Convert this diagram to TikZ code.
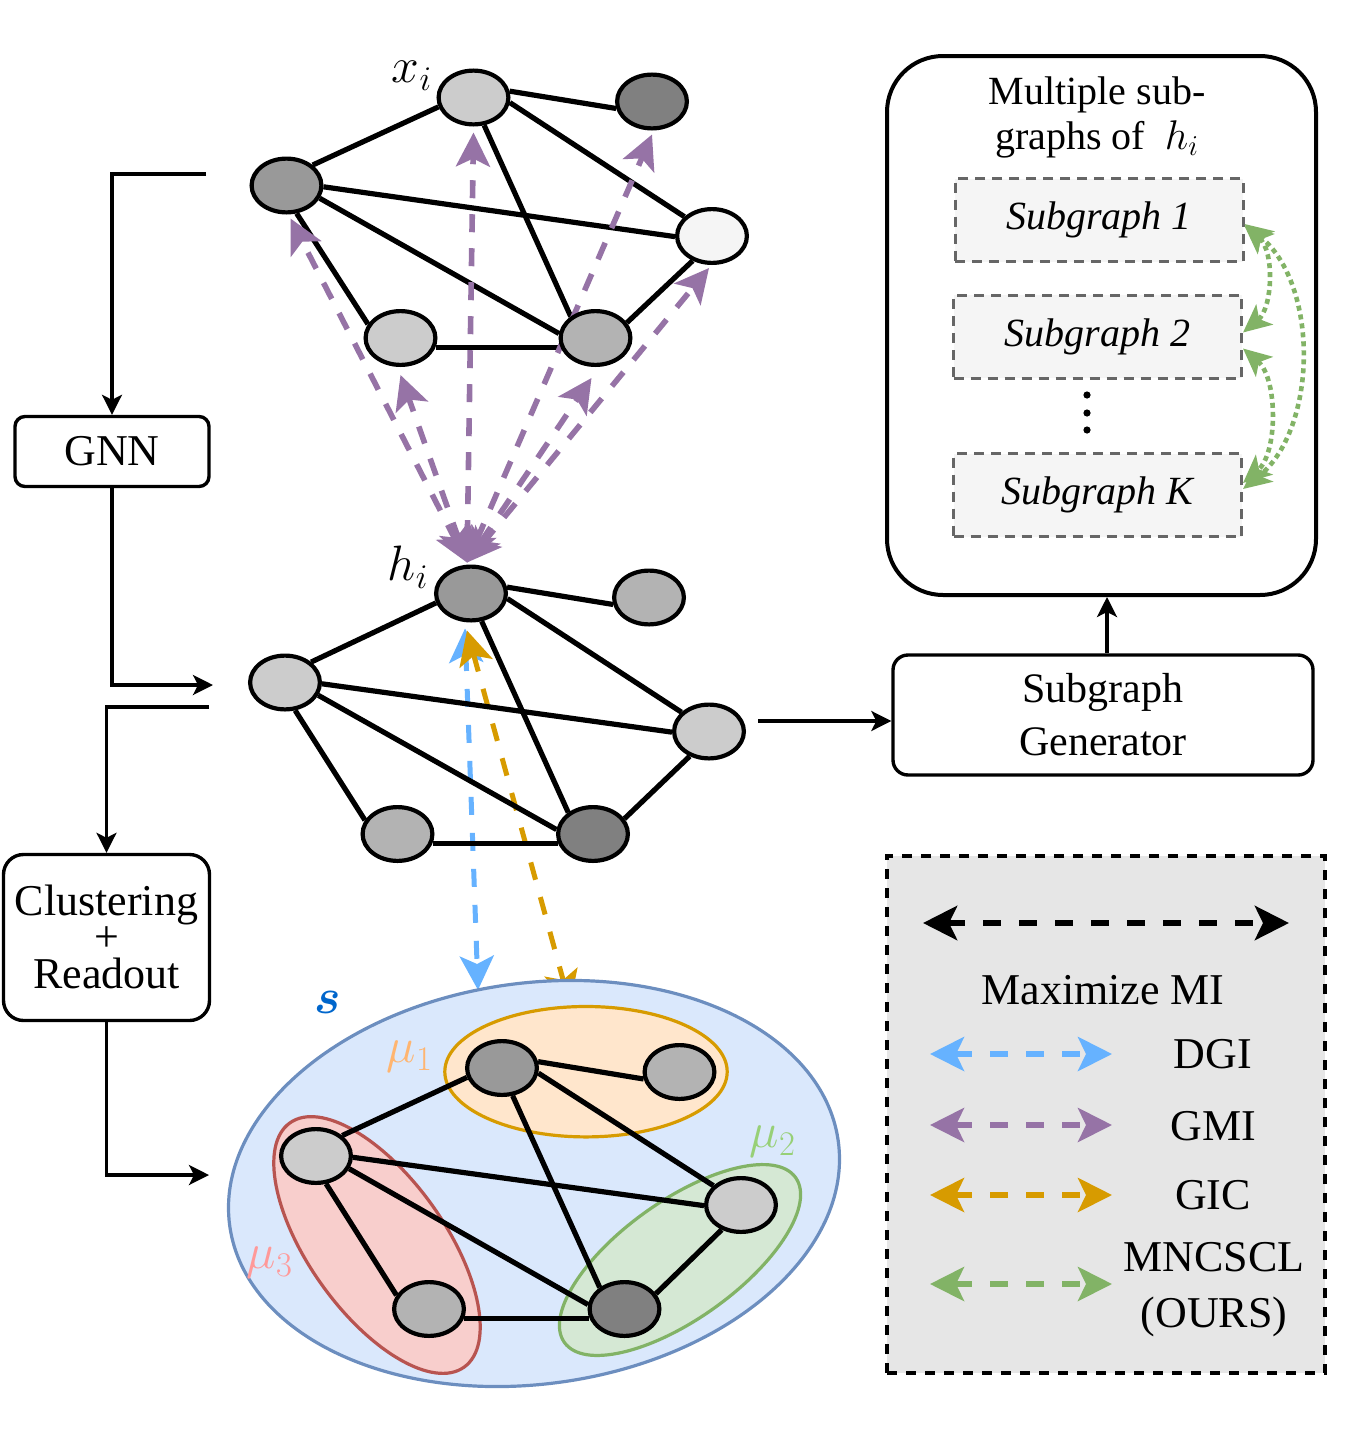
\documentclass[tikz,border=0pt]{standalone}
\usepackage{amsmath}
\usepackage{fontspec}
\setmainfont{Liberation Serif}
\usetikzlibrary{arrows.meta,shapes.geometric}
\pgfdeclarelayer{lay0}
\pgfdeclarelayer{lay1}
\pgfdeclarelayer{lay2}
\pgfsetlayers{lay0,lay1,lay2,main}
\definecolor{purp}{HTML}{9673A6}
\definecolor{dgib}{HTML}{66B2FF}
\definecolor{gico}{HTML}{D79B00}
\definecolor{grn}{HTML}{82B366}
\definecolor{gA}{HTML}{CCCCCC}
\definecolor{gB}{HTML}{808080}
\definecolor{gC}{HTML}{999999}
\definecolor{gD}{HTML}{F5F5F5}
\definecolor{gE}{HTML}{B3B3B3}
\definecolor{sgline}{HTML}{666666}
\definecolor{sgfill}{HTML}{F5F5F5}
\definecolor{lgfill}{HTML}{E6E6E6}
\definecolor{sfill}{HTML}{DAE8FC}
\definecolor{sline}{HTML}{6C8EBF}
\definecolor{ofill}{HTML}{FFE6CC}
\definecolor{oline}{HTML}{D79B00}
\definecolor{rfill}{HTML}{F8CECC}
\definecolor{rline}{HTML}{B85450}
\definecolor{gfill}{HTML}{D5E8D4}
\definecolor{gline}{HTML}{82B366}
\definecolor{sblue}{HTML}{0066CC}
\definecolor{muone}{HTML}{FFB570}
\definecolor{mutwo}{HTML}{97D077}
\definecolor{muthree}{HTML}{FF9999}
\tikzset{
  gnode/.style={ellipse, draw=black, line width=2.1pt, minimum width=34.9pt, minimum height=26.9pt, inner sep=0pt},
  gedge/.style={line width=2.6pt},
  conn/.style={line width=1.6pt, -{Stealth[length=10pt,width=10pt,inset=2.5pt]}},
  bigtip/.style={Stealth[length=17pt,width=17pt,inset=4pt]},
  miarrow/.style={line width=2.8pt, dash pattern=on 9pt off 8pt, {Stealth[length=17pt,width=17pt,inset=4pt]}-{Stealth[length=17pt,width=17pt,inset=4pt]}},
  lgarrow/.style={line width=2.8pt, dash pattern=on 9pt off 9pt, {Stealth[length=17pt,width=17pt,inset=4pt]}-{Stealth[length=17pt,width=17pt,inset=4pt]}},
  gdot/.style={grn, line width=2.3pt, dash pattern=on 2.5pt off 2pt, {Stealth[length=14pt,width=13pt,inset=3.5pt]}-{Stealth[length=14pt,width=13pt,inset=3.5pt]}},
  box/.style={draw=black, line width=1.7pt, inner sep=0pt, align=center, font=\fontsize{22}{26}\selectfont},
  sgbox/.style={draw=sgline, fill=sgfill, line width=1.5pt, dash pattern=on 5pt off 3.5pt, minimum width=144pt, minimum height=41.5pt, inner sep=0pt, font=\fontsize{20}{24}\selectfont\itshape},
  lbl/.style={font=\fontsize{22}{26}\selectfont, inner sep=0pt},
  mlbl/.style={font=\fontsize{26}{30}\selectfont, inner sep=0pt},
}
\begin{document}
\begin{tikzpicture}[x=0.5pt,y=-0.5pt]
\useasboundingbox (0,0) rectangle (1352,1440);

% ---------- graph nodes ----------
\node[gnode, fill=gA] (N1) at (473.5,97.5) {};
\node[gnode, fill=gB] (N2) at (652,101.5) {};
\node[gnode, fill=gC] (N3) at (286.5,185.5) {};
\node[gnode, fill=gD] (N4) at (712,236) {};
\node[gnode, fill=gA] (N5) at (400.5,338) {};
\node[gnode, fill=gE] (N6) at (595.5,338) {};

\node[gnode, fill=gC] (M1) at (471,593.5) {};
\node[gnode, fill=gE] (M2) at (649,597.5) {};
\node[gnode, fill=gA] (M3) at (285,682.5) {};
\node[gnode, fill=gA] (M4) at (709,731.5) {};
\node[gnode, fill=gE] (M5) at (397.5,834) {};
\node[gnode, fill=gB] (M6) at (593,834) {};

\node[gnode, fill=gC] (B1) at (502,1068) {};
\node[gnode, fill=gE] (B2) at (679.5,1072) {};
\node[gnode, fill=gA] (B3) at (316,1156) {};
\node[gnode, fill=gA] (B4) at (741,1205) {};
\node[gnode, fill=gE] (B5) at (429,1309) {};
\node[gnode, fill=gB] (B6) at (624.5,1309) {};

% ---------- labels ----------
\node[mlbl] (xlab) at (412,76) {$x_i$};
\node[mlbl] (hlab) at (408,567) {$h_i$};
\node[mlbl, text=sblue] (slab) at (328,1002) {$\boldsymbol{s}$};
\node[mlbl, text=muone] (mu1) at (410,1057) {$\mu_1$};
\node[mlbl, text=mutwo] (mu2) at (773,1142) {$\mu_2$};
\node[mlbl, text=muthree] (mu3) at (270,1263) {$\mu_3$};

% ---------- boxes ----------
\node[box, minimum width=97pt, minimum height=35pt, rounded corners=5pt] (gnn) at (112,451.5) {GNN};
\node[box, minimum width=103pt, minimum height=83pt, rounded corners=10pt] (clu) at (106.5,937.5) {};
\node[lbl, anchor=base] (clu1) at (106.5,915) {Clustering};
\node[lbl, anchor=base] (clu2) at (106.5,951.5) {+};
\node[lbl, anchor=base] (clu3) at (106.5,988) {Readout};
\node[box, minimum width=210pt, minimum height=60pt, rounded corners=7.5pt, font=\fontsize{21}{26.5}\selectfont] (sgen) at (1103,715) {Subgraph\\Generator};
\node[draw=black, line width=2pt, rounded corners=28pt, minimum width=214.5pt, minimum height=269.5pt] (tb) at (1101.5,325.5) {};
\node[font=\fontsize{20}{22.5}\selectfont, align=center, inner sep=0pt] (hdr) at (1097,117) {Multiple sub-\\graphs of~ $h_i$};
\node[sgbox] (sg1) at (1099,220) {Subgraph 1};
\node[sgbox] (sg2) at (1097.5,336.5) {Subgraph 2};
\node[sgbox] (sgk) at (1097.5,495) {Subgraph K};
\fill (1087,395) circle [radius=1.8pt];
\fill (1087,413) circle [radius=1.8pt];
\fill (1087,430) circle [radius=1.8pt];

\draw[gdot] ([yshift=-3pt]sg1.east) .. controls +(30,25) and +(30,-25) .. ([yshift=2pt]sg2.east);
\draw[gdot] ([yshift=-2pt]sg1.east) .. controls +(75,60) and +(75,-60) .. ([yshift=3pt]sgk.east);
\draw[gdot] ([yshift=-6pt]sg2.east) .. controls +(35,30) and +(35,-30) .. ([yshift=6pt]sgk.east);

% ---------- legend ----------
\node[draw=black, fill=lgfill, line width=1.9pt, dash pattern=on 5pt off 4.5pt, minimum width=219pt, minimum height=258.5pt] (lg) at (1106,1114.5) {};
\coordinate (lk1) at (923,923); \coordinate (lk2) at (1289,923);
\draw[lgarrow, line width=3.2pt, black] (lk1) -- (lk2);
\node[lbl] (mmi) at (1103,990) {Maximize MI};
\coordinate (ld1) at (930,1054); \coordinate (ld2) at (1112,1054);
\draw[lgarrow, dgib] (ld1) -- (ld2);
\node[lbl] (tdgi) at (1213,1054) {DGI};
\coordinate (lm1) at (930,1125); \coordinate (lm2) at (1112,1125);
\draw[lgarrow, purp] (lm1) -- (lm2);
\node[lbl] (tgmi) at (1213,1126) {GMI};
\coordinate (lc1) at (930,1195); \coordinate (lc2) at (1112,1195);
\draw[lgarrow, gico] (lc1) -- (lc2);
\node[lbl] (tgic) at (1213,1195) {GIC};
\coordinate (ln1) at (930,1284); \coordinate (ln2) at (1112,1284);
\draw[lgarrow, grn] (ln1) -- (ln2);
\node[lbl, align=center, font=\fontsize{22}{28}\selectfont] (tours) at (1214,1290) {MNCSCL\\(OURS)};

% ---------- flow connectors ----------
\coordinate (c1) at (206,174);
\draw[conn] (c1) -| (gnn.north);
\coordinate (c2) at (213,685);
\draw[conn] (gnn.south) |- (c2);
\coordinate (c3) at (209,707);
\draw[conn] (c3) -| (clu.north);
\coordinate (c4) at (209,1175);
\draw[conn] (clu.south) |- (c4);
\coordinate (c5) at (758,721);
\draw[conn] (c5) -- (c5 -| sgen.west);
\draw[conn] ([xshift=2pt]sgen.north) -- ([xshift=2pt]sgen.north |- tb.south);

% ---------- edges and GMI arrows ----------
\begin{pgfonlayer}{lay2}
\foreach \g in {N,M,B}{
  \draw[gedge] (\g1.195) -- (\g3.38);
  \draw[gedge] (\g1.10) -- (\g2.191);
  \draw[gedge] (\g1.-8) -- (\g4.145);
  \draw[gedge] (\g1.-69) -- (\g6.139);
  \draw[gedge] (\g3.-2) -- (\g4.181);
  \draw[gedge] (\g3.-21) -- (\g6.173);
  \draw[gedge] (\g3.-70) -- (\g5.157);
  \draw[gedge] (\g5.-15) -- (\g6.195);
  \draw[gedge] (\g6.26) -- (\g4.232);
}
\draw[miarrow, purp] ([xshift=-2pt,yshift=1pt]M1.north) -- ([xshift=2pt,yshift=-2pt]N3.south);
\draw[miarrow, purp] ([xshift=-2pt,yshift=1pt]M1.north) -- ([yshift=-4pt]N5.south);
\draw[miarrow, purp] ([xshift=-2pt,yshift=1pt]M1.north) -- ([yshift=-3pt]N1.south);
\draw[miarrow, purp] ([xshift=-2pt,yshift=1pt]M1.north) -- ([xshift=-2pt,yshift=-5.5pt]N6.south);
\draw[miarrow, purp] ([xshift=-2pt,yshift=1pt]M1.north) -- ([yshift=-2pt]N2.south);
\draw[miarrow, purp] ([xshift=-2pt,yshift=1pt]M1.north) -- ([xshift=-1.5pt,yshift=-1.5pt]N4.south);
\end{pgfonlayer}

% ---------- cluster ellipses ----------
\begin{pgfonlayer}{lay1}
\draw[sline, fill=sfill, line width=1.6pt, rotate around={8:(534,1183.5)}] (534,1183.5) ellipse [x radius=153.6pt, y radius=100.2pt];
\draw[oline, fill=ofill, line width=1.6pt] (586,1071.7) ellipse [x radius=70.6pt, y radius=32.6pt];
\draw[rline, fill=rfill, line width=1.6pt, rotate around={-54.5:(377,1245)}] (377,1245) ellipse [x radius=75pt, y radius=34pt];
\draw[gline, fill=gfill, line width=1.6pt, rotate around={35.5:(680,1260)}] (680,1260) ellipse [x radius=71pt, y radius=29.5pt];
\end{pgfonlayer}

% ---------- DGI / GIC arrows ----------
\begin{pgfonlayer}{lay0}
\coordinate (stop) at (478,990);
\coordinate (otop) at (570,1005);
\draw[miarrow, line width=2.5pt, dash pattern=on 9pt off 9pt, dgib] ([xshift=-3pt,yshift=-3pt]M1.south) -- (stop);
\draw[miarrow, line width=2.5pt, dash pattern=on 9pt off 9pt, gico] ([xshift=-2pt,yshift=-4pt]M1.south) -- (otop);
\end{pgfonlayer}
\end{tikzpicture}
\end{document}
